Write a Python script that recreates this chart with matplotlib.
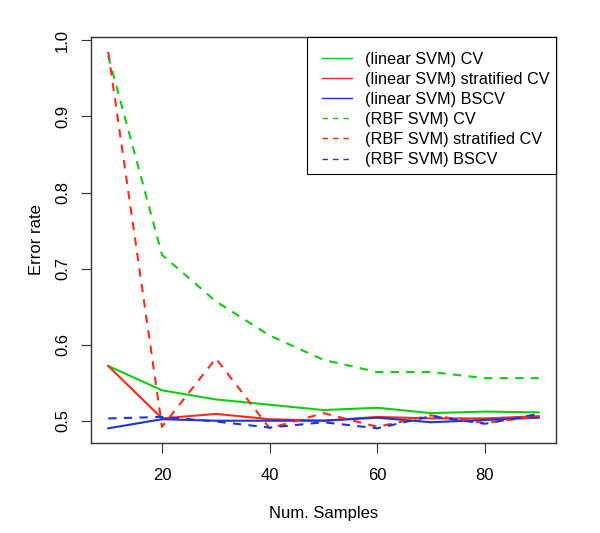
import matplotlib
matplotlib.use("Agg")
import matplotlib.pyplot as plt
from matplotlib.lines import Line2D
from matplotlib.patches import Rectangle

plt.rcParams['font.family'] = ['Liberation Sans', 'DejaVu Sans']

samples = [10, 20, 30, 40, 50, 60, 70, 80, 90]
lin_cv = [0.572, 0.540, 0.528, 0.521, 0.514, 0.517, 0.510, 0.512, 0.511]
lin_strat = [0.572, 0.503, 0.509, 0.502, 0.500, 0.505, 0.503, 0.503, 0.506]
lin_bscv = [0.490, 0.502, 0.500, 0.500, 0.500, 0.504, 0.498, 0.501, 0.504]
rbf_cv = [0.980, 0.718, 0.657, 0.612, 0.580, 0.564, 0.564, 0.556, 0.556]
rbf_strat = [0.985, 0.492, 0.582, 0.490, 0.510, 0.492, 0.507, 0.497, 0.506]
rbf_bscv = [0.503, 0.505, 0.499, 0.491, 0.498, 0.490, 0.506, 0.496, 0.509]

labels = ["(linear SVM) CV", "(linear SVM) stratified CV", "(linear SVM) BSCV",
          "(RBF SVM) CV", "(RBF SVM) stratified CV", "(RBF SVM) BSCV"]

green = '#11cc11'
red = '#ff2a1a'
blue = '#1f33dd'

W, H = 600, 533
fig = plt.figure(figsize=(6.0, 5.33), dpi=100)
# axes box in pixels: left 91, right 556, top 37, bottom 443
ax = fig.add_axes([91 / W, 1 - 443 / H, 465 / W, 406 / H])

lw = 1.5
dash = (0, (4, 3.5))
series = [(lin_cv, green, '-'), (lin_strat, red, '-'), (lin_bscv, blue, '-'),
          (rbf_cv, green, dash), (rbf_strat, red, dash), (rbf_bscv, blue, dash)]
for vals, c, ls in series:
    ax.plot(samples, vals, color=c, linestyle=ls, linewidth=lw)

ax.set_xlim(6.8, 93.2)
ax.set_ylim(0.4707, 1.0045)
ax.set_xticks([20, 40, 60, 80])
ax.set_yticks([0.5, 0.6, 0.7, 0.8, 0.9, 1.0])
ax.set_yticklabels(['0.5', '0.6', '0.7', '0.8', '0.9', '1.0'], rotation=90, va='center')
ax.tick_params(direction='out', length=7.2, width=0.8, labelsize=12, color='#333333')
ax.tick_params(axis='x', pad=11)
ax.tick_params(axis='y', pad=8)
for s in ax.spines.values():
    s.set_linewidth(1.0)
    s.set_color('#333333')

ax.set_xlabel('Num. Samples', fontsize=12, labelpad=16.5)
ax.set_ylabel('Error rate', fontsize=12, labelpad=7.5)

# legend frame (pixels: x 307-556, y 37-174)
ax.add_patch(Rectangle(((307 - 91) / 465, (443 - 174) / 406), (556 - 307) / 465,
                       (174 - 37) / 406, transform=ax.transAxes, fill=True,
                       facecolor='white', edgecolor='black', linewidth=0.8, zorder=4,
                       clip_on=False))
handles = [Line2D([], [], color=c, linestyle=ls, linewidth=1.0) for _, c, ls in series]
leg = ax.legend(handles, labels, loc='upper left',
                bbox_to_anchor=((322 - 91) / 465, (443 - 52) / 406),
                fontsize=11.7, frameon=False, borderaxespad=0, borderpad=0,
                handlelength=1.85, handletextpad=0.8, labelspacing=0.31)
leg.set_zorder(5)

fig.savefig('out.png', dpi=100)
